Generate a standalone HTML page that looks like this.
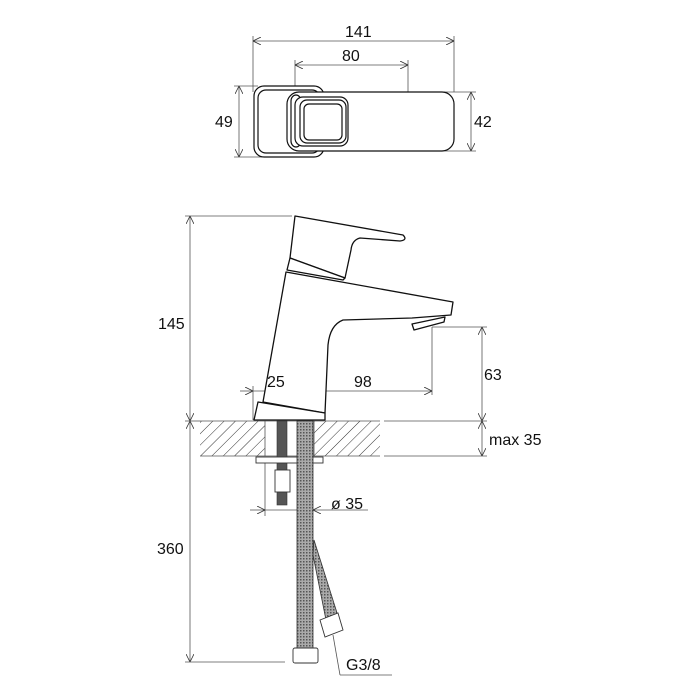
<!DOCTYPE html>
<html><head><meta charset="utf-8"><style>
html,body{margin:0;padding:0;background:#fff}
svg{display:block}
text{font-family:"Liberation Sans",Arial,sans-serif;font-size:16px;fill:#111}
</style></head><body>
<svg width="700" height="700" viewBox="0 0 700 700" xmlns="http://www.w3.org/2000/svg">
<defs>
<pattern id="hatch" width="8" height="8" patternUnits="userSpaceOnUse" patternTransform="rotate(45)">
<line x1="0" y1="0" x2="0" y2="8" stroke="#333" stroke-width="1"/>
</pattern>
<pattern id="mesh" width="3" height="3" patternUnits="userSpaceOnUse">
<rect width="3" height="3" fill="#aaa"/><rect width="1.5" height="1.5" fill="#555"/>
</pattern>
<marker id="a" viewBox="0 0 10 10" refX="10" refY="5" markerWidth="8" markerHeight="8" orient="auto-start-reverse" markerUnits="userSpaceOnUse">
<path d="M0,0 L10,5 L0,10" fill="none" stroke="#333" stroke-width="1"/>
</marker>
</defs>
<g stroke="#555" stroke-width="0.8" fill="none">
<line x1="253" y1="36" x2="253" y2="92"/><line x1="454" y1="36" x2="454" y2="92"/>
<line x1="253" y1="41" x2="454" y2="41" marker-start="url(#a)" marker-end="url(#a)"/>
<line x1="295" y1="60" x2="295" y2="97"/><line x1="408" y1="60" x2="408" y2="97"/>
<line x1="295" y1="65" x2="408" y2="65" marker-start="url(#a)" marker-end="url(#a)"/>
<line x1="234" y1="86" x2="258" y2="86"/><line x1="234" y1="157" x2="270" y2="157"/>
<line x1="239" y1="86" x2="239" y2="157" marker-start="url(#a)" marker-end="url(#a)"/>
<line x1="440" y1="92" x2="476" y2="92"/><line x1="445" y1="151" x2="476" y2="151"/>
<line x1="471" y1="92" x2="471" y2="151" marker-start="url(#a)" marker-end="url(#a)"/>
<line x1="185" y1="216" x2="292" y2="216"/>
<line x1="190" y1="216" x2="190" y2="421" marker-start="url(#a)" marker-end="url(#a)"/>
<line x1="190" y1="421" x2="190" y2="662" marker-start="url(#a)" marker-end="url(#a)"/>
<line x1="185" y1="421" x2="200" y2="421"/>
<line x1="185" y1="662" x2="285" y2="662"/>
<line x1="432" y1="327" x2="487" y2="327"/><line x1="432" y1="327" x2="432" y2="395"/>
<line x1="482" y1="327" x2="482" y2="421" marker-start="url(#a)" marker-end="url(#a)"/>
<line x1="384" y1="421" x2="487" y2="421"/><line x1="384" y1="456" x2="487" y2="456"/>
<line x1="482" y1="421" x2="482" y2="456" marker-start="url(#a)" marker-end="url(#a)"/>
<line x1="240" y1="391" x2="253" y2="391" marker-end="url(#a)"/>
<line x1="253" y1="386" x2="253" y2="420"/><line x1="290" y1="378" x2="290" y2="420"/>
<line x1="290" y1="391" x2="253" y2="391"/>
<line x1="290" y1="391" x2="432" y2="391" marker-start="url(#a)" marker-end="url(#a)"/>
<line x1="265" y1="462" x2="265" y2="516"/>
<line x1="250" y1="510" x2="265" y2="510" marker-end="url(#a)"/>
<line x1="265" y1="510" x2="313" y2="510"/>
<line x1="368" y1="510" x2="313" y2="510" marker-end="url(#a)"/>
<line x1="333" y1="635" x2="340" y2="675"/><line x1="340" y1="675" x2="392" y2="675"/>
</g>
<g stroke="#111" stroke-width="1.2" fill="#fff">
<rect x="254" y="86" width="70" height="71" rx="10"/>
<rect x="258" y="90" width="62" height="63" rx="8"/>
<rect x="287" y="92" width="167" height="59" rx="12"/>
<rect x="291" y="95" width="10" height="52" rx="6"/>
<rect x="295" y="97" width="53" height="49" rx="8"/>
<rect x="300" y="100" width="46" height="43" rx="7"/>
<rect x="304" y="104" width="38" height="36" rx="5"/>
</g>
<rect x="200" y="421" width="65" height="35" fill="url(#hatch)" stroke="none"/>
<rect x="314" y="421" width="66" height="35" fill="url(#hatch)" stroke="none"/>
<g stroke="#555" stroke-width="0.8" fill="none">
<line x1="200" y1="421" x2="380" y2="421"/><line x1="200" y1="456" x2="380" y2="456"/>
<line x1="265" y1="421" x2="265" y2="456"/><line x1="314" y1="421" x2="314" y2="456"/>
</g>
<g stroke="#111" stroke-width="1.3" fill="#fff" stroke-linejoin="round">
<path d="M286,272 L453,302 L451,315 L412,318 L343,320 Q330,325 328,345 L325,413 L263,402 Z"/>
<path d="M295,216 L403,235 Q408,240 400,241 L360,238 Q352,240 351,250 L345,278 L290,258 Z"/>
<path d="M290,258 L345,278 L343,280 L287,270 Z"/>
<path d="M412,324 L445,317 L444,322 L414,330 Z"/>
<path d="M258,402 L325,413 L325,420 L254,420 Z"/>
</g>
<rect x="277" y="421" width="10" height="84" fill="#555" stroke="#333" stroke-width="0.6"/>
<rect x="256" y="457" width="67" height="6" fill="#fff" stroke="#333" stroke-width="0.9"/>
<rect x="275" y="470" width="15" height="22" fill="#fff" stroke="#333" stroke-width="0.9"/>
<rect x="297" y="421" width="16" height="230" fill="url(#mesh)" stroke="#333" stroke-width="0.8"/>
<path d="M313,555 L326,620 L338,616 L314,540 Z" fill="url(#mesh)" stroke="#333" stroke-width="0.8"/>
<path d="M320,620 L338,613 L343,630 L325,637 Z" fill="#fff" stroke="#333" stroke-width="0.9"/>
<rect x="293" y="648" width="25" height="15" rx="2" fill="#fff" stroke="#333" stroke-width="0.9"/>
<text x="345" y="37">141</text>
<text x="342" y="61">80</text>
<text x="215" y="127">49</text>
<text x="474" y="127">42</text>
<text x="158" y="329">145</text>
<text x="157" y="554">360</text>
<text x="267" y="387">25</text>
<text x="354" y="387">98</text>
<text x="484" y="380">63</text>
<text x="489" y="445">max 35</text>
<text x="331" y="509">ø 35</text>
<text x="346" y="670">G3/8</text>
</svg>
</body></html>
